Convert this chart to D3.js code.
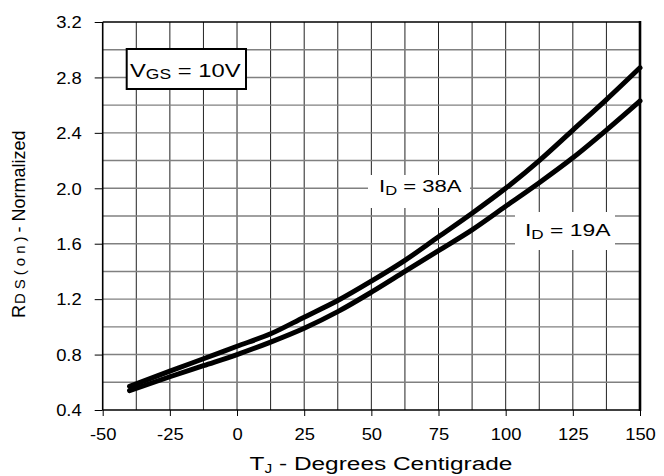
<!DOCTYPE html>
<html>
<head>
<meta charset="utf-8">
<script src="https://cdn.jsdelivr.net/npm/d3@7"></script>
<style>
  html, body { margin: 0; padding: 0; background: #fff; }
  svg { display: block; font-family: "Liberation Sans", Arial, sans-serif; }
</style>
</head>
<body>
<svg id="chart" width="664" height="476"></svg>
<script>
// ---- data ----
const temperatures = [-40, -25, -12.5, 0, 12.5, 25, 37.5, 50, 62.5, 75, 87.5, 100, 112.5, 125, 137.5, 150];
const rdsId38 = [0.57, 0.68, 0.77, 0.86, 0.95, 1.07, 1.19, 1.33, 1.48, 1.65, 1.82, 2.00, 2.20, 2.42, 2.64, 2.87];
const rdsId19 = [0.54, 0.64, 0.72, 0.80, 0.89, 0.99, 1.11, 1.25, 1.40, 1.55, 1.70, 1.87, 2.04, 2.22, 2.42, 2.63];
const xTickValues = [-50, -25, 0, 25, 50, 75, 100, 125, 150];
const yTickValues = [0.4, 0.8, 1.2, 1.6, 2.0, 2.4, 2.8, 3.2];
const xGridValues = d3.range(-37.5, 150, 12.5);
const yGridValues = [0.6, 0.8, 1.0, 1.2, 1.4, 1.6, 1.8, 2.0, 2.2, 2.4, 2.6, 2.8, 3.0];

// ---- layout ----
const X0 = 102.7, X1 = 640, Y0 = 410, Y1 = 22;
const x = d3.scaleLinear().domain([-50, 150]).range([X0, X1]);
const y = d3.scaleLinear().domain([0.4, 3.2]).range([Y0, Y1]);
const svg = d3.select("#chart");

function fit(t, targetW, anchorX) {
  const bb = t.node().getBBox();
  const s = targetW / bb.width;
  t.attr("transform", `translate(${anchorX},0) scale(${s},1) translate(${-anchorX},0)`);
}

// grid
const g = svg.append("g");
g.selectAll(".vg").data(xGridValues).join("line")
  .attr("x1", d => x(d)).attr("x2", d => x(d)).attr("y1", Y1).attr("y2", Y0)
  .attr("stroke", "#222").attr("stroke-width", 1);
g.selectAll(".hg").data(yGridValues).join("line")
  .attr("x1", X0).attr("x2", X1).attr("y1", d => y(d)).attr("y2", d => y(d))
  .attr("stroke", "#808080").attr("stroke-width", 1.4);

// annotation backgrounds (cover grid)
svg.append("rect").attr("x", 368).attr("y", 175).attr("width", 102).attr("height", 33).attr("fill", "#fff");
svg.append("rect").attr("x", 515).attr("y", 212).attr("width", 100).attr("height", 38).attr("fill", "#fff");

// frame
svg.append("line").attr("x1", X0).attr("x2", X0).attr("y1", Y1).attr("y2", Y0).attr("stroke", "#000").attr("stroke-width", 1.6);
svg.append("line").attr("x1", X0).attr("x2", X1).attr("y1", Y0).attr("y2", Y0).attr("stroke", "#000").attr("stroke-width", 1.6);
svg.append("line").attr("x1", X0).attr("x2", X1).attr("y1", Y1).attr("y2", Y1).attr("stroke", "#000").attr("stroke-width", 1.6);
svg.append("line").attr("x1", X1).attr("x2", X1).attr("y1", Y1 - 1).attr("y2", Y0 + 1).attr("stroke", "#000").attr("stroke-width", 2.6);

// axes (ticks)
const yAxis = d3.axisLeft(y).tickValues(yTickValues).tickSize(8).tickFormat(d3.format(".1f"));
const ya = svg.append("g").attr("transform", `translate(${X0},0)`).call(yAxis);
ya.select(".domain").remove();
ya.selectAll("line").attr("stroke", "#000").attr("stroke-width", 1);
ya.selectAll("text").attr("font-size", 16).attr("fill", "#000").attr("font-family", "Liberation Sans, Arial, sans-serif")
  .attr("dy", "0.36em").attr("x", -21)
  .attr("transform", "translate(-21,0) scale(1.15,1) translate(21,0)");

const xAxis = d3.axisBottom(x).tickValues(xTickValues).tickSize(6).tickPadding(13).tickFormat(d => String(d));
const xa = svg.append("g").attr("transform", `translate(0,${Y0})`).call(xAxis);
xa.select(".domain").remove();
xa.selectAll("line").attr("stroke", "#000").attr("stroke-width", 1);
xa.selectAll("text").attr("font-size", 16).attr("fill", "#000").attr("font-family", "Liberation Sans, Arial, sans-serif")
  .attr("dy", "0.71em").attr("transform", "scale(1.15,1)");

// curves
const line = d3.line().x((d, i) => x(temperatures[i])).y(d => y(d)).curve(d3.curveMonotoneX);
[rdsId38, rdsId19].forEach(series => {
  svg.append("path").attr("d", line(series)).attr("fill", "none").attr("stroke", "#000")
    .attr("stroke-width", 5).attr("stroke-linecap", "round").attr("stroke-linejoin", "round");
});

// legend box
svg.append("rect").attr("x", 126.7).attr("y", 49).attr("width", 119.3).attr("height", 40)
  .attr("fill", "#fff").attr("stroke", "#000").attr("stroke-width", 2);
const lt = svg.append("text").attr("x", 130).attr("y", 77).attr("font-size", 19).attr("fill", "#000");
lt.append("tspan").text("V");
lt.append("tspan").attr("font-size", 14).attr("dy", 2).text("GS");
lt.append("tspan").attr("dy", -2).text(" = 10V");
fit(lt, 111, 130);

// annotations
function idLabel(x0, base, val, w) {
  const t = svg.append("text").attr("x", x0).attr("y", base).attr("font-size", 16).attr("fill", "#000");
  t.append("tspan").text("I");
  t.append("tspan").attr("font-size", 12).attr("dy", 3).text("D");
  t.append("tspan").attr("dy", -3).text(" = " + val);
  fit(t, w, x0);
}
idLabel(379, 192.5, "38A", 83);
idLabel(525, 236, "19A", 86);

// y axis title
const yt = svg.append("text").attr("transform", "translate(25,318) rotate(-90)").attr("fill", "#000");
yt.append("tspan").attr("font-size", 18).text("R");
yt.append("tspan").attr("font-size", 15).attr("letter-spacing", 4).attr("dx", 1).text("DS(on)");
yt.append("tspan").attr("font-size", 18).text("- Normalized");

// x axis title
const xt = svg.append("text").attr("x", 381).attr("y", 470).attr("text-anchor", "middle").attr("font-size", 19).attr("fill", "#000");
xt.append("tspan").text("T");
xt.append("tspan").attr("font-size", 12).attr("dy", 3).text("J");
xt.append("tspan").attr("dy", -3).text(" - Degrees Centigrade");
fit(xt, 263, 381);
</script>
</body>
</html>
